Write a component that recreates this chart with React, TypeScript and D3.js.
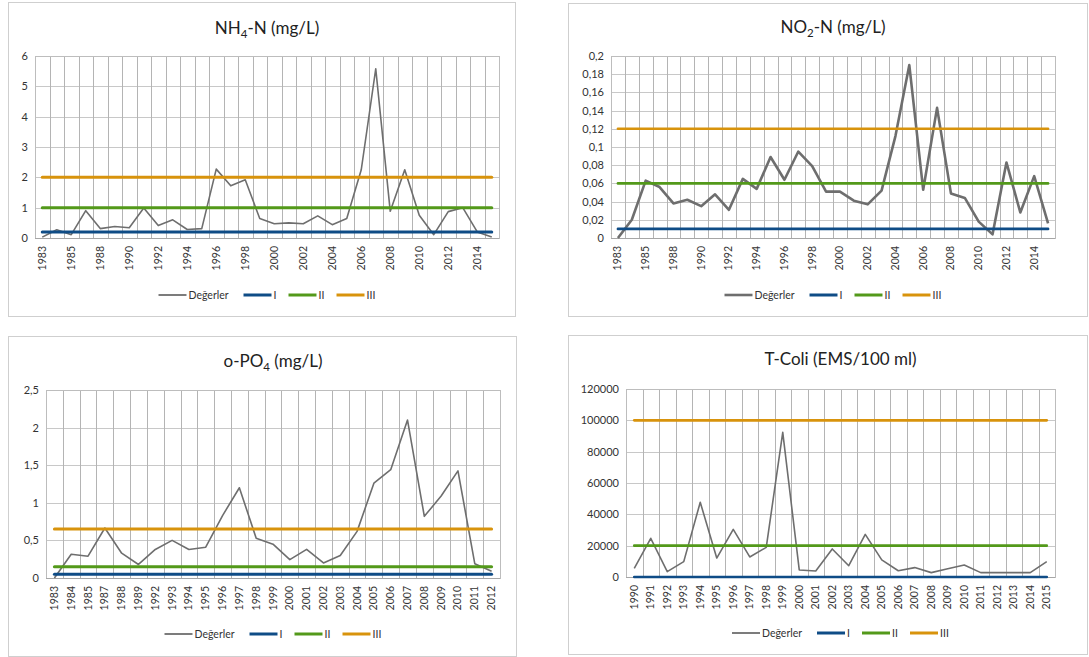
import * as d3 from "d3";

const FONT = "Lato, 'Open Sans', 'DejaVu Sans', sans-serif";

// category lists
const yearsA = ["1983", "1984", "1985", "1987", "1988", "1989", "1990", "1991", "1992", "1993", "1994", "1995", "1996", "1997", "1998", "1999", "2000", "2001", "2002", "2003", "2004", "2005", "2006", "2007", "2008", "2009", "2010", "2011", "2012", "2013", "2014", "2015"];
const yearsPO4 = ["1983", "1984", "1985", "1987", "1988", "1989", "1992", "1993", "1994", "1995", "1996", "1997", "1998", "1999", "2000", "2001", "2002", "2003", "2004", "2005", "2006", "2007", "2008", "2009", "2010", "2011", "2012"];
const yearsColi = ["1990", "1991", "1992", "1993", "1994", "1995", "1996", "1997", "1998", "1999", "2000", "2001", "2002", "2003", "2004", "2005", "2006", "2007", "2008", "2009", "2010", "2011", "2012", "2013", "2014", "2015"];

// series values
const nh4Values = [0.03, 0.27, 0.11, 0.9, 0.31, 0.38, 0.34, 0.99, 0.41, 0.6, 0.28, 0.31, 2.27, 1.72, 1.92, 0.64, 0.47, 0.5, 0.47, 0.73, 0.44, 0.64, 2.25, 5.58, 0.88, 2.25, 0.75, 0.11, 0.87, 1.0, 0.2, 0.03];
const no2Values = [0.0, 0.02, 0.063, 0.056, 0.038, 0.042, 0.035, 0.048, 0.031, 0.065, 0.054, 0.089, 0.064, 0.095, 0.079, 0.051, 0.051, 0.041, 0.037, 0.052, 0.112, 0.19, 0.053, 0.143, 0.049, 0.044, 0.018, 0.004, 0.083, 0.028, 0.068, 0.016];
const po4Values = [0.0, 0.315, 0.29, 0.665, 0.33, 0.18, 0.38, 0.5, 0.38, 0.41, 0.83, 1.2, 0.53, 0.45, 0.245, 0.38, 0.2, 0.3, 0.62, 1.26, 1.44, 2.1, 0.82, 1.09, 1.425, 0.19, 0.09];
const coliValues = [5500, 24700, 3400, 9800, 47700, 12100, 30400, 12800, 18900, 92300, 4500, 3800, 17900, 7200, 27200, 10900, 4000, 6000, 2800, 5300, 7700, 2800, 2800, 2800, 2800, 9800];

// class limits I, II, III
const nh4Limits = [0.2, 1, 2];
const no2Limits = [0.01, 0.06, 0.12];
const po4Limits = [0.05, 0.15, 0.65];
const coliLimits = [0, 20000, 100000];

// y ticks
const nh4Ticks = [0, 1, 2, 3, 4, 5, 6];
const no2Ticks = [0, 0.02, 0.04, 0.06, 0.08, 0.1, 0.12, 0.14, 0.16, 0.18, 0.2];
const po4Ticks = [0, 0.5, 1, 1.5, 2, 2.5];
const coliTicks = [0, 20000, 40000, 60000, 80000, 100000, 120000];

const legendLabels = ["Değerler", "I", "II", "III"];
const GRAY = "#6e6e6e";
const LIMIT_COLORS = ["#0f4c86", "#53991a", "#d8930c"];

type Box = { x: number; y: number; w: number; h: number };

function Panel(props: {
  frame: Box;
  plot: Box;
  title: [string, string, string];
  titleY: number;
  years: string[];
  values: number[];
  limits: number[];
  ticks: number[];
  every: number;
  lw: number;
  llw: number;
  legendY: number;
}) {
  const { frame, plot, title, titleY, years, values, limits, ticks, every, lw, llw, legendY } = props;
  const x = d3.scaleBand().domain(years).range([plot.x, plot.x + plot.w]).padding(0);
  const cx = (c: string) => (x(c) as number) + x.bandwidth() / 2;
  const y = d3.scaleLinear().domain([0, ticks[ticks.length - 1]]).range([plot.y + plot.h, plot.y]);
  const line = d3.line<number>().x((_, i) => cx(years[i])).y((d) => y(d));
  const fmt = (d: number) => String(d).replace(".", ",");
  const x0 = cx(years[0]);
  const x1 = cx(years[years.length - 1]);
  const midX = plot.x + plot.w / 2;

  // legend layout
  const textW = [43, 3, 6, 9];
  const swatch = 28;
  const widths = textW.map((t) => swatch + 2 + t);
  const total = d3.sum(widths) + 12 * (widths.length - 1);
  let lx = midX - total / 2;
  const legendItems = legendLabels.map((label, i) => {
    const item = { label, x: lx, color: i === 0 ? GRAY : LIMIT_COLORS[i - 1], w: i === 0 ? Math.max(lw, 1.8) : 3 };
    lx += widths[i] + 12;
    return item;
  });

  return (
    <g>
      <rect x={frame.x + 0.5} y={frame.y + 0.5} width={frame.w} height={frame.h} fill="#fff" stroke="#cfcfcf" />
      <text x={midX} y={titleY} textAnchor="middle" fontSize={17} fill="#222" fontFamily={FONT}>
        {title[0]}
        <tspan fontSize={11.5} dy={4}>{title[1]}</tspan>
        <tspan dy={-4}>{title[2]}</tspan>
      </text>
      {ticks.map((t) => (
        <line key={"h" + t} x1={plot.x} x2={plot.x + plot.w} y1={Math.round(y(t)) + 0.5} y2={Math.round(y(t)) + 0.5} stroke="#c8c8c8" />
      ))}
      {years.slice(1).map((c) => (
        <line key={"v" + c} x1={Math.round(x(c) as number) + 0.5} x2={Math.round(x(c) as number) + 0.5} y1={plot.y} y2={plot.y + plot.h} stroke="#b4b4b4" />
      ))}
      <rect x={plot.x + 0.5} y={plot.y + 0.5} width={plot.w} height={plot.h} fill="none" stroke="#bdbdbd" />
      <line x1={plot.x} x2={plot.x + plot.w} y1={plot.y + plot.h + 0.5} y2={plot.y + plot.h + 0.5} stroke="#a6a6a6" />
      {ticks.map((t) => (
        <text key={"yl" + t} x={plot.x - 7} y={y(t) + 4} textAnchor="end" fontSize={11} fill="#333" fontFamily={FONT}>
          {fmt(t)}
        </text>
      ))}
      {years.map((c, i) =>
        i % every === 0 ? (
          <text key={"xl" + c} transform={`translate(${cx(c) + 3.5},${plot.y + plot.h + 8}) rotate(-90)`} textAnchor="end" fontSize={10.5} fill="#333" fontFamily={FONT}>
            {c}
          </text>
        ) : null
      )}
      <path d={line(values) || ""} fill="none" stroke={GRAY} strokeWidth={lw} strokeLinejoin="round" />
      {limits.map((v, i) => (
        <line key={"lim" + i} x1={x0} x2={x1} y1={y(v)} y2={y(v)} stroke={LIMIT_COLORS[i]} strokeWidth={llw} strokeLinecap="round" />
      ))}
      {legendItems.map((it) => (
        <g key={it.label}>
          <line x1={it.x} x2={it.x + swatch} y1={legendY} y2={legendY} stroke={it.color} strokeWidth={it.w} />
          <text x={it.x + swatch + 2} y={legendY + 3.5} fontSize={10.5} fill="#333" fontFamily={FONT}>
            {it.label}
          </text>
        </g>
      ))}
    </g>
  );
}

export default function App() {
  return (
    <svg width={1089} height={657} style={{ position: "absolute", left: 0, top: 0, background: "#fff" }}>
      <Panel
        frame={{ x: 8, y: 2, w: 507, h: 314 }}
        plot={{ x: 35, y: 56, w: 464, h: 182 }}
        title={["NH", "4", "-N (mg/L)"]}
        titleY={34}
        years={yearsA}
        values={nh4Values}
        limits={nh4Limits}
        ticks={nh4Ticks}
        every={2}
        lw={1.6}
        llw={3}
        legendY={295}
      />
      <Panel
        frame={{ x: 568, y: 3, w: 519, h: 313 }}
        plot={{ x: 611, y: 56, w: 444, h: 182 }}
        title={["NO", "2", "-N (mg/L)"]}
        titleY={33}
        years={yearsA}
        values={no2Values}
        limits={no2Limits}
        ticks={no2Ticks}
        every={2}
        lw={2.6}
        llw={2.6}
        legendY={295}
      />
      <Panel
        frame={{ x: 8, y: 336, w: 508, h: 320 }}
        plot={{ x: 46, y: 390, w: 454, h: 188 }}
        title={["o-PO", "4", " (mg/L)"]}
        titleY={367}
        years={yearsPO4}
        values={po4Values}
        limits={po4Limits}
        ticks={po4Ticks}
        every={1}
        lw={1.6}
        llw={3}
        legendY={634}
      />
      <Panel
        frame={{ x: 568, y: 335, w: 519, h: 319 }}
        plot={{ x: 626, y: 389, w: 429, h: 188 }}
        title={["T-Coli (EMS/100 ml)", "", ""]}
        titleY={365}
        years={yearsColi}
        values={coliValues}
        limits={coliLimits}
        ticks={coliTicks}
        every={1}
        lw={1.6}
        llw={2.6}
        legendY={633}
      />
    </svg>
  );
}
